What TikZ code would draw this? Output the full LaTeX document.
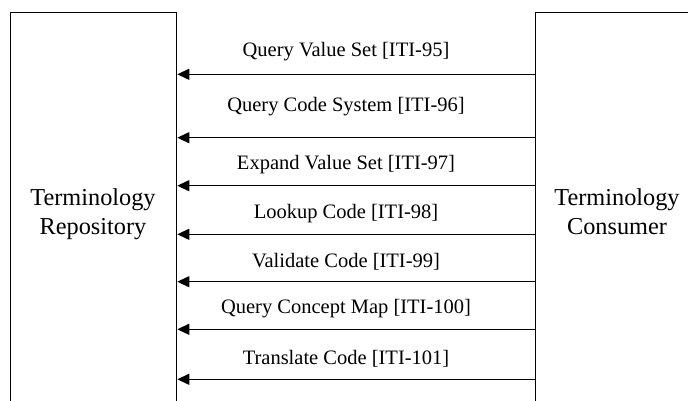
\documentclass[tikz,border=0pt]{standalone}
\usepackage{fontspec}
\setmainfont{Liberation Serif}
\usetikzlibrary{arrows.meta}
\begin{document}
\begin{tikzpicture}[x=1pt,y=-1pt,
  actor/.style={draw, line width=1.3pt, rectangle, inner sep=0pt, anchor=north west},
  msg/.style={-{Triangle[length=12pt,width=11pt]}, line width=1.3pt},
  msglabel/.style={font=\fontsize{20.5}{24}\selectfont, anchor=base, inner sep=0pt},
  sidelabel/.style={font=\fontsize{24.3}{28.5}\selectfont, align=center, anchor=north, inner sep=0pt}]
\useasboundingbox (0,0) rectangle (688,401);
\clip (0,0) rectangle (688,401);
\node[actor, minimum width=166pt, minimum height=420pt] (repo) at (10,11.7) {};
\node[actor, minimum width=164pt, minimum height=420pt] (cons) at (535,11.7) {};
\node[sidelabel] (repolabel) at (93,188.5) {Terminology\\Repository};
\node[sidelabel] (conslabel) at (617,188.5) {Terminology\\Consumer};
\coordinate (y1) at (0,74.3);
\coordinate (y2) at (0,137.7);
\coordinate (y3) at (0,185.7);
\coordinate (y4) at (0,234.3);
\coordinate (y5) at (0,281.7);
\coordinate (y6) at (0,329.3);
\coordinate (y7) at (0,379.3);
\draw[msg] (cons.west |- y1) -- (repo.east |- y1);
\draw[msg] (cons.west |- y2) -- (repo.east |- y2);
\draw[msg] (cons.west |- y3) -- (repo.east |- y3);
\draw[msg] (cons.west |- y4) -- (repo.east |- y4);
\draw[msg] (cons.west |- y5) -- (repo.east |- y5);
\draw[msg] (cons.west |- y6) -- (repo.east |- y6);
\draw[msg] (cons.west |- y7) -- (repo.east |- y7);
\node[msglabel] (m1) at (346,56.7) {Query Value Set [ITI-95]};
\node[msglabel] (m2) at (346,111.7) {Query Code System [ITI-96]};
\node[msglabel] (m3) at (346,169.3) {Expand Value Set [ITI-97]};
\node[msglabel] (m4) at (346,218.3) {Lookup Code [ITI-98]};
\node[msglabel] (m5) at (346,267.3) {Validate Code [ITI-99]};
\node[msglabel] (m6) at (346,313.3) {Query Concept Map [ITI-100]};
\node[msglabel] (m7) at (346,364) {Translate Code [ITI-101]};
\end{tikzpicture}
\end{document}
